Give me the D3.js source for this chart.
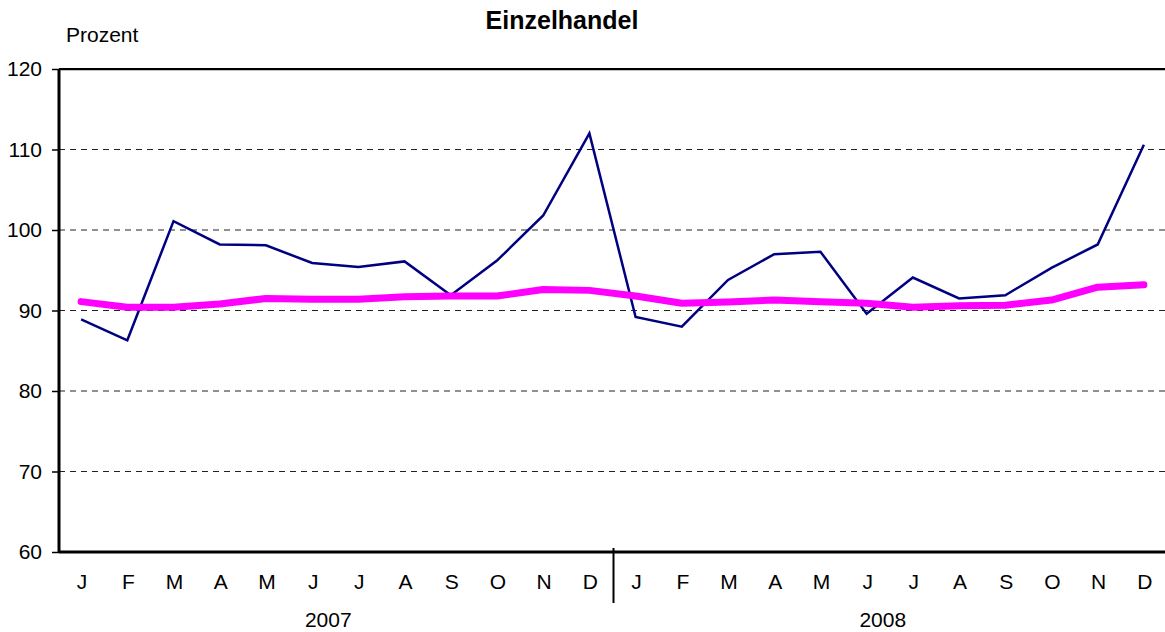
<!DOCTYPE html>
<html>
<head>
<meta charset="utf-8">
<script src="https://cdn.jsdelivr.net/npm/d3@7"></script>
<style>
  body { margin: 0; background: #fff; }
  svg { display: block; font-family: "Liberation Sans", Arial, sans-serif; }
</style>
</head>
<body>
<div id="chart"></div>
<script>
// monthly data, 2007 and 2008
var months = ["J", "F", "M", "A", "M", "J", "J", "A", "S", "O", "N", "D"];
var years = ["2007", "2008"];
var original = [88.9, 86.3, 101.1, 98.2, 98.1, 95.9, 95.4, 96.1, 91.9, 96.2, 101.8, 112.0,
                89.2, 88.0, 93.8, 97.0, 97.3, 89.6, 94.1, 91.5, 91.9, 95.3, 98.2, 110.6];
var trend = [91.1, 90.4, 90.4, 90.8, 91.5, 91.4, 91.4, 91.7, 91.8, 91.8, 92.6, 92.5,
             91.8, 90.9, 91.05, 91.3, 91.1, 90.9, 90.4, 90.6, 90.65, 91.3, 92.9, 93.2];
var yTicks = [60, 70, 80, 90, 100, 110, 120];

var W = 1165, H = 632;
var margin = { top: 69, right: -3, bottom: 80, left: 59 };
var width = W - margin.left - margin.right,
    height = H - margin.top - margin.bottom;

var keys = [];
years.forEach(function (y) {
  months.forEach(function (m, i) { keys.push(y + "-" + i); });
});

var svg = d3.select("#chart").append("svg")
    .attr("width", W)
    .attr("height", H);

var g = svg.append("g")
    .attr("transform", "translate(" + margin.left + "," + margin.top + ")");

var x = d3.scaleBand().domain(keys).range([0, width]);
var y = d3.scaleLinear().domain([60, 120]).range([height, 0]);

// dashed grid lines
g.selectAll(".grid")
  .data(yTicks.filter(function (d) { return d > 60 && d < 120; }))
  .enter().append("line")
    .attr("class", "grid")
    .attr("x1", 0).attr("x2", width)
    .attr("y1", function (d) { return y(d); })
    .attr("y2", function (d) { return y(d); })
    .attr("stroke", "#222")
    .attr("stroke-width", 1)
    .attr("stroke-dasharray", "6,5");

// top border
g.append("line")
  .attr("x1", 0).attr("x2", width)
  .attr("y1", 1).attr("y2", 1)
  .attr("stroke", "#aaa").attr("stroke-width", 1.5);
g.append("line")
  .attr("x1", 0).attr("x2", width)
  .attr("y1", 0).attr("y2", 0)
  .attr("stroke", "#000").attr("stroke-width", 2);

// y axis
var gy = g.append("g")
    .call(d3.axisLeft(y).tickValues(yTicks).tickSize(7).tickPadding(10));
gy.select(".domain").attr("stroke-width", 3).attr("d", "M0,0V" + height);
gy.selectAll(".tick line").attr("stroke-width", 1.5);
gy.selectAll("text").style("font-size", "21px").attr("fill", "#000");

// x axis
var gx = g.append("g")
    .attr("transform", "translate(0," + height + ")")
    .call(d3.axisBottom(x).tickSize(0).tickPadding(22)
      .tickFormat(function (d) { return months[+d.split("-")[1]]; }));
gx.select(".domain").attr("stroke-width", 3).attr("d", "M0,0H" + width);
gx.selectAll("text").style("font-size", "21px").attr("fill", "#000");

// year separator
g.append("line")
  .attr("x1", x(keys[12])).attr("x2", x(keys[12]))
  .attr("y1", height - 4).attr("y2", height + 51)
  .attr("stroke", "#000").attr("stroke-width", 2);

// year labels
g.selectAll(".year")
  .data(years)
  .enter().append("text")
    .attr("class", "year")
    .attr("x", function (d, i) { return x(keys[i * 12 + 6]) - 8; })
    .attr("y", height + 75)
    .attr("text-anchor", "middle")
    .style("font-size", "21px")
    .text(function (d) { return d; });

var line = d3.line()
    .x(function (d, i) { return x(keys[i]) + x.bandwidth() / 2 - 1; })
    .y(function (d) { return y(d); });

g.append("path")
  .datum(original)
  .attr("fill", "none")
  .attr("stroke", "#000080")
  .attr("stroke-width", 2.5)
  .attr("d", line);

g.append("path")
  .datum(trend)
  .attr("fill", "none")
  .attr("stroke", "#ff00ff")
  .attr("stroke-width", 7)
  .attr("stroke-linecap", "round")
  .attr("stroke-linejoin", "round")
  .attr("d", line);

// title and unit
svg.append("text")
  .attr("x", 562).attr("y", 29)
  .attr("text-anchor", "middle")
  .style("font-size", "25px")
  .style("font-weight", "bold")
  .text("Einzelhandel");

svg.append("text")
  .attr("x", 66).attr("y", 42)
  .style("font-size", "21px")
  .text("Prozent");
</script>
</body>
</html>
